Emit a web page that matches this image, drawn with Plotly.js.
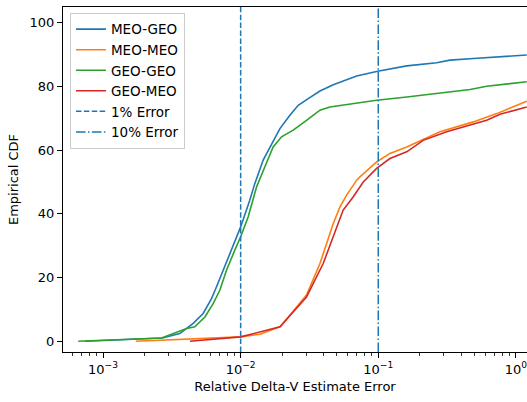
<!DOCTYPE html>
<html>
<head>
<meta charset="utf-8">
<script src="https://cdn.plot.ly/plotly-3.0.1.min.js"></script>
<style>html,body{margin:0;padding:0;background:#fff;}#chart{width:527px;height:402px;}</style>
</head>
<body>
<div id="chart"></div>
<script>
// Data (x: relative error, y: empirical CDF %)
const meoGeoX = [0.00074, 0.0027, 0.00361, 0.00452, 0.00534, 0.00614, 0.00668, 0.00746, 0.00859, 0.01, 0.01165, 0.01267, 0.01458, 0.01679, 0.01929, 0.0228, 0.0262, 0.031, 0.0377, 0.0471, 0.0697, 0.099, 0.161, 0.266, 0.332, 0.491, 1.2];
const meoGeoY = [0, 1.0, 2.4, 5.6, 8.7, 13.4, 17.1, 22.3, 28.6, 35.9, 44.3, 49.5, 56.9, 62.1, 66.8, 71.0, 74.1, 76.2, 78.6, 80.6, 83.3, 84.8, 86.5, 87.5, 88.3, 88.8, 89.9];

const meoMeoX = [0.00173, 0.01, 0.0138, 0.0195, 0.0301, 0.0377, 0.0471, 0.0527, 0.0589, 0.0697, 0.0736, 0.0973, 0.1216, 0.161, 0.281, 0.491, 0.726, 1.2];
const meoMeoY = [0, 1.35, 2.2, 4.6, 14.5, 24.4, 37.0, 42.2, 45.9, 50.6, 51.6, 56.3, 59.0, 61.0, 65.8, 68.9, 71.5, 75.4];

const geoGeoX = [0.00066, 0.00266, 0.00405, 0.00464, 0.0055, 0.00631, 0.00706, 0.00789, 0.00907, 0.01, 0.01135, 0.01306, 0.015, 0.01723, 0.01983, 0.0241, 0.0301, 0.0377, 0.0445, 0.0973, 0.161, 0.281, 0.465, 0.614, 1.2];
const geoGeoY = [0, 1.0, 4.0, 4.5, 7.6, 11.8, 16.0, 22.3, 28.6, 32.8, 39.1, 48.5, 54.8, 61.0, 64.2, 66.3, 69.4, 72.6, 73.6, 75.7, 76.7, 78.0, 79.1, 80.1, 81.5];

const geoMeoX = [0.00428, 0.01, 0.0193, 0.0301, 0.0398, 0.0498, 0.0556, 0.0657, 0.0778, 0.0973, 0.1216, 0.161, 0.212, 0.314, 0.614, 0.767, 1.2];
const geoMeoY = [0, 1.35, 4.5, 13.9, 24.4, 35.9, 41.2, 45.3, 50.0, 54.3, 57.4, 59.5, 63.1, 65.8, 69.4, 71.3, 73.6];

const refLines = [0.01, 0.1];
const refNames = ['1% Error', '10% Error'];
const xTickVals = [0.001, 0.01, 0.1, 1];
const xTickText = ['10<sup>−3</sup>', '10<sup>−2</sup>', '10<sup>−1</sup>', '10<sup>0</sup>'];
const yTickVals = [0, 20, 40, 60, 80, 100];

const yRange = [-3.4, 105];

function line(x, y, name, color) {
  return {x: x, y: y, name: name, type: 'scatter', mode: 'lines',
          line: {color: color, width: 1.6}, hoverinfo: 'skip'};
}

const traces = [
  line(meoGeoX, meoGeoY, 'MEO-GEO', '#1f77b4'),
  line(meoMeoX, meoMeoY, 'MEO-MEO', '#ff7f0e'),
  line(geoGeoX, geoGeoY, 'GEO-GEO', '#2ca02c'),
  line(geoMeoX, geoMeoY, 'GEO-MEO', '#d62728'),
  {x: [refLines[0], refLines[0]], y: yRange, name: refNames[0], type: 'scatter', mode: 'lines',
   line: {color: '#1f77b4', width: 1.5, dash: '5.5px,2.4px'}},
  {x: [refLines[1], refLines[1]], y: yRange, name: refNames[1], type: 'scatter', mode: 'lines',
   line: {color: '#1f77b4', width: 1.5, dash: '9.6px,2.4px,1.5px,2.4px'}}
];

const font = {family: 'DejaVu Sans', size: 13, color: '#000'};

const layout = {
  width: 527, height: 402,
  margin: {l: 63, r: 0, t: 7, b: 50, pad: 0},
  paper_bgcolor: '#fff', plot_bgcolor: '#fff',
  font: font,
  showlegend: true,
  legend: {x: 0.015, y: 0.983, xanchor: 'left', yanchor: 'top',
           bgcolor: 'rgba(255,255,255,0.8)', bordercolor: '#cccccc', borderwidth: 1,
           font: {family: 'DejaVu Sans', size: 13.5, color: '#000'},
           tracegroupgap: 0, itemwidth: 30},
  xaxis: {
    type: 'log', range: [-3.291, 0.081],
    showgrid: false, zeroline: false,
    showline: true, linecolor: '#000', linewidth: 1, mirror: true,
    ticks: 'outside', ticklen: 5, tickwidth: 1, tickcolor: '#000',
    tickvals: xTickVals, ticktext: xTickText, ticklabeloverflow: 'allow',
    tickfont: {family: 'DejaVu Sans', size: 13, color: '#000'},
    minor: {ticks: 'outside', ticklen: 3, tickwidth: 0.8, tickcolor: '#000', showgrid: false, dtick: 'D1'},
    title: {text: 'Relative Delta-V Estimate Error', standoff: 6,
            font: {family: 'DejaVu Sans', size: 13, color: '#000'}}
  },
  yaxis: {
    range: yRange,
    showgrid: false, zeroline: false,
    showline: true, linecolor: '#000', linewidth: 1, mirror: true,
    ticks: 'outside', ticklen: 5, tickwidth: 1, tickcolor: '#000',
    tickvals: yTickVals,
    tickfont: {family: 'DejaVu Sans', size: 13, color: '#000'},
    title: {text: 'Empirical CDF', standoff: 8,
            font: {family: 'DejaVu Sans', size: 13, color: '#000'}}
  }
};

Plotly.newPlot('chart', traces, layout, {displayModeBar: false, staticPlot: true});
</script>
</body>
</html>
